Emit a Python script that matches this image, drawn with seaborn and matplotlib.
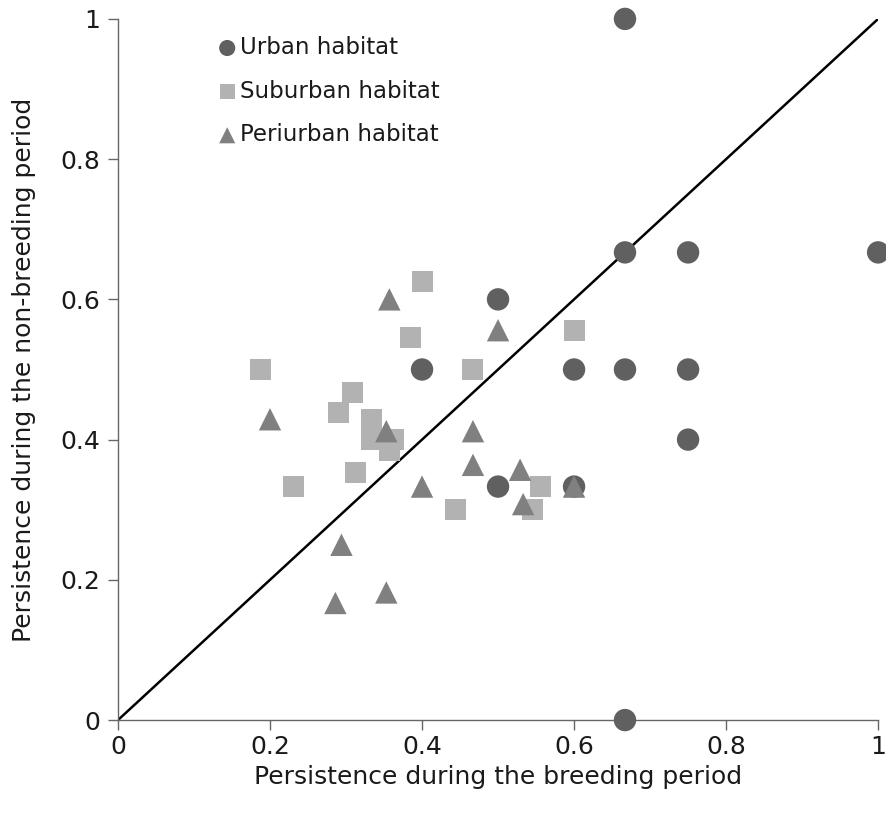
import matplotlib
matplotlib.use("Agg")
import matplotlib.pyplot as plt
import seaborn as sns
import pandas as pd
import numpy as np

# Data
urban_x = [0.667, 0.667, 0.75, 1.0, 0.5, 0.4, 0.6, 0.667, 0.75, 0.75, 0.5, 0.6, 0.667]
urban_y = [1.0, 0.667, 0.667, 0.667, 0.6, 0.5, 0.5, 0.5, 0.5, 0.4, 0.333, 0.333, 0.0]

suburban_x = [0.4, 0.385, 0.1875, 0.467, 0.6, 0.308, 0.29, 0.333, 0.333, 0.362, 0.357,
              0.313, 0.231, 0.444, 0.556, 0.545]
suburban_y = [0.625, 0.545, 0.5, 0.5, 0.556, 0.467, 0.438, 0.429, 0.4, 0.4, 0.385,
              0.353, 0.333, 0.3, 0.333, 0.3]

periurban_x = [0.357, 0.5, 0.2, 0.353, 0.467, 0.467, 0.529, 0.4, 0.6, 0.533, 0.294,
               0.353, 0.286]
periurban_y = [0.6, 0.556, 0.429, 0.412, 0.412, 0.364, 0.357, 0.333, 0.333, 0.308,
               0.25, 0.182, 0.167]

labels = ["Urban habitat", "Suburban habitat", "Periurban habitat"]
xticks = [0, 0.2, 0.4, 0.6, 0.8, 1]
xtick_labels = ["0", "0.2", "0.4", "0.6", "0.8", "1"]

df = pd.concat([
    pd.DataFrame({"x": urban_x, "y": urban_y, "habitat": labels[0]}),
    pd.DataFrame({"x": suburban_x, "y": suburban_y, "habitat": labels[1]}),
    pd.DataFrame({"x": periurban_x, "y": periurban_y, "habitat": labels[2]}),
])

sns.set_theme(style="white")
plt.rcParams["font.family"] = ["DejaVu Sans"]

fig = plt.figure(figsize=(8.87, 8.22), dpi=100)
ax = fig.add_axes([0.133, 0.124, 0.857, 0.853])

colors = {labels[0]: "#606060", labels[1]: "#b2b2b2", labels[2]: "#808080"}
markers = {labels[0]: "o", labels[1]: "s", labels[2]: "^"}
sizes = {labels[0]: 260, labels[1]: 230, labels[2]: 260}

ax.plot([0, 1], [0, 1], color="black", lw=1.8, zorder=1)

for lab in labels:
    sub = df[df["habitat"] == lab]
    sns.scatterplot(data=sub, x="x", y="y", ax=ax, color=colors[lab], marker=markers[lab],
                    s=sizes[lab], edgecolor="none", linewidth=0, label=lab,
                    clip_on=False, zorder=3)

ax.set_xlim(0, 1)
ax.set_ylim(0, 1)
ax.set_xticks(xticks)
ax.set_xticklabels(xtick_labels)
ax.set_yticks(xticks)
ax.set_yticklabels(xtick_labels)
ax.tick_params(axis="both", labelsize=18, length=7, width=1,
               direction="out", bottom=True, left=True, pad=6,
               colors="#666666", labelcolor="#1a1a1a")
ax.tick_params(axis="x", pad=4)
for side in ["top", "right"]:
    ax.spines[side].set_visible(False)
for side in ["left", "bottom"]:
    ax.spines[side].set_color("#666666")
    ax.spines[side].set_linewidth(1)

ax.set_xlabel("Persistence during the breeding period", fontsize=18, color="#1a1a1a", labelpad=4)
ax.set_ylabel("Persistence during the non-breeding period", fontsize=18, color="#1a1a1a", labelpad=17)

leg = ax.legend(loc="upper left", bbox_to_anchor=(0.1, 1.005), frameon=False, fontsize=16.5,
                handletextpad=0.0, labelspacing=0.9, markerscale=0.72, handlelength=1.1,
                labelcolor="#1a1a1a")

fig.savefig("out.png", dpi=100)
